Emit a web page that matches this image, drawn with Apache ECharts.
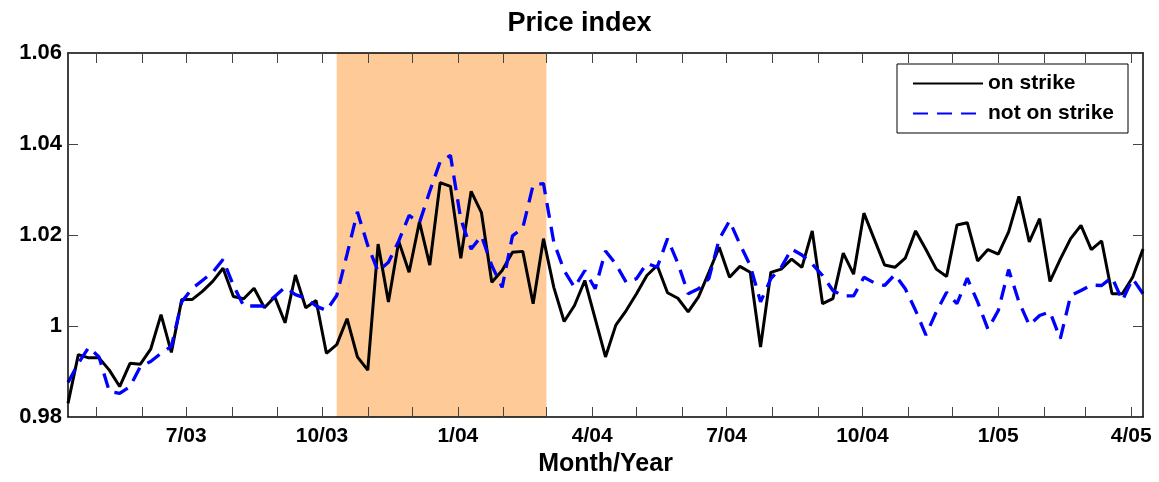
<!DOCTYPE html>
<html>
<head>
<meta charset="utf-8">
<script src="https://cdn.jsdelivr.net/npm/echarts@6/dist/echarts.min.js"></script>
<style>html,body{margin:0;padding:0;background:#fff}#c{width:1159px;height:482px}</style>
</head>
<body>
<div id="c"></div>
<script>
// Weekly observations starting this date
const startDate = '2003-04-12';
const seriesNames = ['on strike', 'not on strike'];
const onStrike = [
  0.983, 0.9937, 0.993, 0.993, 0.9903, 0.9867, 0.9918, 0.9916, 0.9949, 1.0025,
  0.9942, 1.0058, 1.0058, 1.0076, 1.0098, 1.0127, 1.0065, 1.006, 1.0083, 1.004,
  1.0064, 1.0007, 1.0112, 1.004, 1.0056, 0.994, 0.9959, 1.0016, 0.9932, 0.9903,
  1.018, 1.0053, 1.0186, 1.0118, 1.0229, 1.0134, 1.0315, 1.0307, 1.0149, 1.0296,
  1.0249, 1.0096, 1.0122, 1.0162, 1.0164, 1.0049, 1.0192, 1.0085, 1.001, 1.0045,
  1.01, 1.0016, 0.9932, 1.0002, 1.0034, 1.0071, 1.0111, 1.0133, 1.0073, 1.0061,
  1.0031, 1.0064, 1.0118, 1.0173, 1.0107, 1.0131, 1.0118, 0.9954, 1.0118, 1.0125,
  1.0147, 1.0129, 1.0209, 1.0049, 1.006, 1.016, 1.0114, 1.0248, 1.0191, 1.0134,
  1.0129, 1.0149, 1.0209, 1.0168, 1.0125, 1.0109, 1.0222, 1.0227, 1.0143, 1.0168,
  1.0158, 1.0207, 1.0285, 1.0185, 1.0236, 1.0098, 1.0147, 1.0192, 1.0221, 1.0168,
  1.0187, 1.0071, 1.0071, 1.0107, 1.0169
];
const notOnStrike = [
  0.9876, 0.9918, 0.9953, 0.9932, 0.9856, 0.9852, 0.9867, 0.9911, 0.9922, 0.994,
  0.9955, 1.0053, 1.0082, 1.01, 1.0118, 1.0146, 1.0089, 1.0044, 1.0044, 1.0044,
  1.0065, 1.0085, 1.0069, 1.0061, 1.0044, 1.0034, 1.0067, 1.0158, 1.0251, 1.0177,
  1.012, 1.014, 1.0187, 1.0243, 1.0227, 1.0296, 1.0361, 1.0375, 1.0235, 1.0169,
  1.0198, 1.0133, 1.0085, 1.0198, 1.0216, 1.031, 1.0313, 1.0184, 1.0122, 1.0085,
  1.0122, 1.0082, 1.0165, 1.0136, 1.0096, 1.0104, 1.0138, 1.0129, 1.0192, 1.0138,
  1.0071, 1.0082, 1.0104, 1.0191, 1.0231, 1.018, 1.0133, 1.0053, 1.0104, 1.0129,
  1.0169, 1.0156, 1.0136, 1.0111, 1.0078, 1.0066, 1.0066, 1.0107, 1.0095, 1.0089,
  1.0113, 1.0082, 1.0034, 0.998, 1.0031, 1.0074, 1.0049, 1.0105, 1.0053, 0.9993,
  1.0034, 1.0124, 1.0053, 1.0002, 1.0023, 1.0031, 0.9972, 1.0067, 1.0078, 1.009,
  1.0089, 1.0107, 1.0056, 1.0104, 1.0071
];
const tickMonths = [
  '2003-05-01','2003-06-01','2003-07-01','2003-08-01','2003-09-01','2003-10-01',
  '2003-11-01','2003-12-01','2004-01-01','2004-02-01','2004-03-01','2004-04-01',
  '2004-05-01','2004-06-01','2004-07-01','2004-08-01','2004-09-01','2004-10-01',
  '2004-11-01','2004-12-01','2005-01-01','2005-02-01','2005-03-01','2005-04-01'
];
const labelMonths = ['2003-07-01','2003-10-01','2004-01-01','2004-04-01','2004-07-01','2004-10-01','2005-01-01','2005-04-01'];
const labelTexts = ['7/03','10/03','1/04','4/04','7/04','10/04','1/05','4/05'];
const strikePeriod = ['2003-10-11', '2004-03-01'];
const yTicks = [0.98, 1.06, 0.02];

function dayOf(s) {
  const p = s.split('-').map(Number);
  const q = startDate.split('-').map(Number);
  return Math.round((Date.UTC(p[0], p[1] - 1, p[2]) - Date.UTC(q[0], q[1] - 1, q[2])) / 86400000);
}
const weekDays = onStrike.map((_, i) => i * 7);
const tickDays = tickMonths.map(dayOf);
const labelDays = labelMonths.map(dayOf);
const labelMap = {};
labelDays.forEach((d, i) => { labelMap[d] = labelTexts[i]; });
const xMax = weekDays[weekDays.length - 1];

const FONT = 'Liberation Sans, Arial, Helvetica, sans-serif';
const tickStyle = { color: '#444', width: 1 };
const lineAxis = { show: true, onZero: false, lineStyle: { color: '#000', width: 1.5 } };

const chart = echarts.init(document.getElementById('c'), null, { renderer: 'canvas' });
chart.setOption({
  animation: false,
  backgroundColor: '#fff',
  textStyle: { fontFamily: FONT },
  title: {
    text: 'Price index', left: 'center', top: 10, padding: 0,
    textStyle: { fontSize: 27, fontWeight: 'bold', color: '#000', fontFamily: FONT }
  },
  grid: { left: 68, right: 16, top: 53, bottom: 63 },
  legend: {
    data: seriesNames, orient: 'vertical', left: 897, top: 64,
    padding: [9, 14, 9, 15], itemGap: 9, itemWidth: 70, itemHeight: 20,
    borderColor: '#000', borderWidth: 1, backgroundColor: '#fff',
    itemStyle: { opacity: 0 },
    textStyle: { fontSize: 21, fontWeight: 'bold', color: '#000', fontFamily: FONT }
  },
  xAxis: [
    {
      type: 'value', position: 'bottom', min: 0, max: xMax, z: 10,
      axisLine: lineAxis,
      axisTick: { show: true, inside: true, length: 10, customValues: tickDays, lineStyle: tickStyle },
      axisLabel: {
        customValues: labelDays, margin: 9, fontSize: 21, fontWeight: 'bold', color: '#000', fontFamily: FONT,
        formatter: v => labelMap[Math.round(v)] || ''
      },
      splitLine: { show: false },
      name: 'Month/Year', nameLocation: 'middle', nameGap: 35,
      nameTextStyle: { fontSize: 25, fontWeight: 'bold', color: '#000', fontFamily: FONT }
    },
    {
      type: 'value', position: 'top', min: 0, max: xMax, z: 10,
      axisLine: lineAxis,
      axisTick: { show: true, inside: true, length: 10, customValues: tickDays, lineStyle: tickStyle },
      axisLabel: { show: false },
      splitLine: { show: false }
    }
  ],
  yAxis: [
    {
      type: 'value', position: 'left', min: yTicks[0], max: yTicks[1], interval: yTicks[2], z: 10,
      axisLine: lineAxis,
      axisTick: { show: true, inside: true, length: 10, lineStyle: tickStyle },
      axisLabel: {
        margin: 6, fontSize: 22, fontWeight: 'bold', color: '#000', fontFamily: FONT,
        formatter: v => String(+v.toFixed(2))
      },
      splitLine: { show: false }
    },
    {
      type: 'value', position: 'right', min: yTicks[0], max: yTicks[1], interval: yTicks[2], z: 10,
      axisLine: lineAxis,
      axisTick: { show: true, inside: true, length: 10, lineStyle: tickStyle },
      axisLabel: { show: false },
      splitLine: { show: false }
    }
  ],
  series: [
    {
      name: 'strike period', type: 'line', data: [], z: 1, silent: true,
      markArea: {
        silent: true,
        itemStyle: { color: '#FECB98' },
        data: [[{ xAxis: dayOf(strikePeriod[0]) }, { xAxis: dayOf(strikePeriod[1]) }]]
      }
    },
    {
      name: seriesNames[0], type: 'line', z: 3,
      data: weekDays.map((d, i) => [d, onStrike[i]]),
      showSymbol: false, symbol: 'none',
      lineStyle: { color: '#000', width: 3 }, itemStyle: { color: '#000' }
    },
    {
      name: seriesNames[1], type: 'line', z: 3,
      data: weekDays.map((d, i) => [d, notOnStrike[i]]),
      showSymbol: false, symbol: 'none',
      lineStyle: { color: '#0000ff', width: 3.3, type: [15, 9] }, itemStyle: { color: '#0000ff' }
    }
  ]
});
</script>
</body>
</html>
